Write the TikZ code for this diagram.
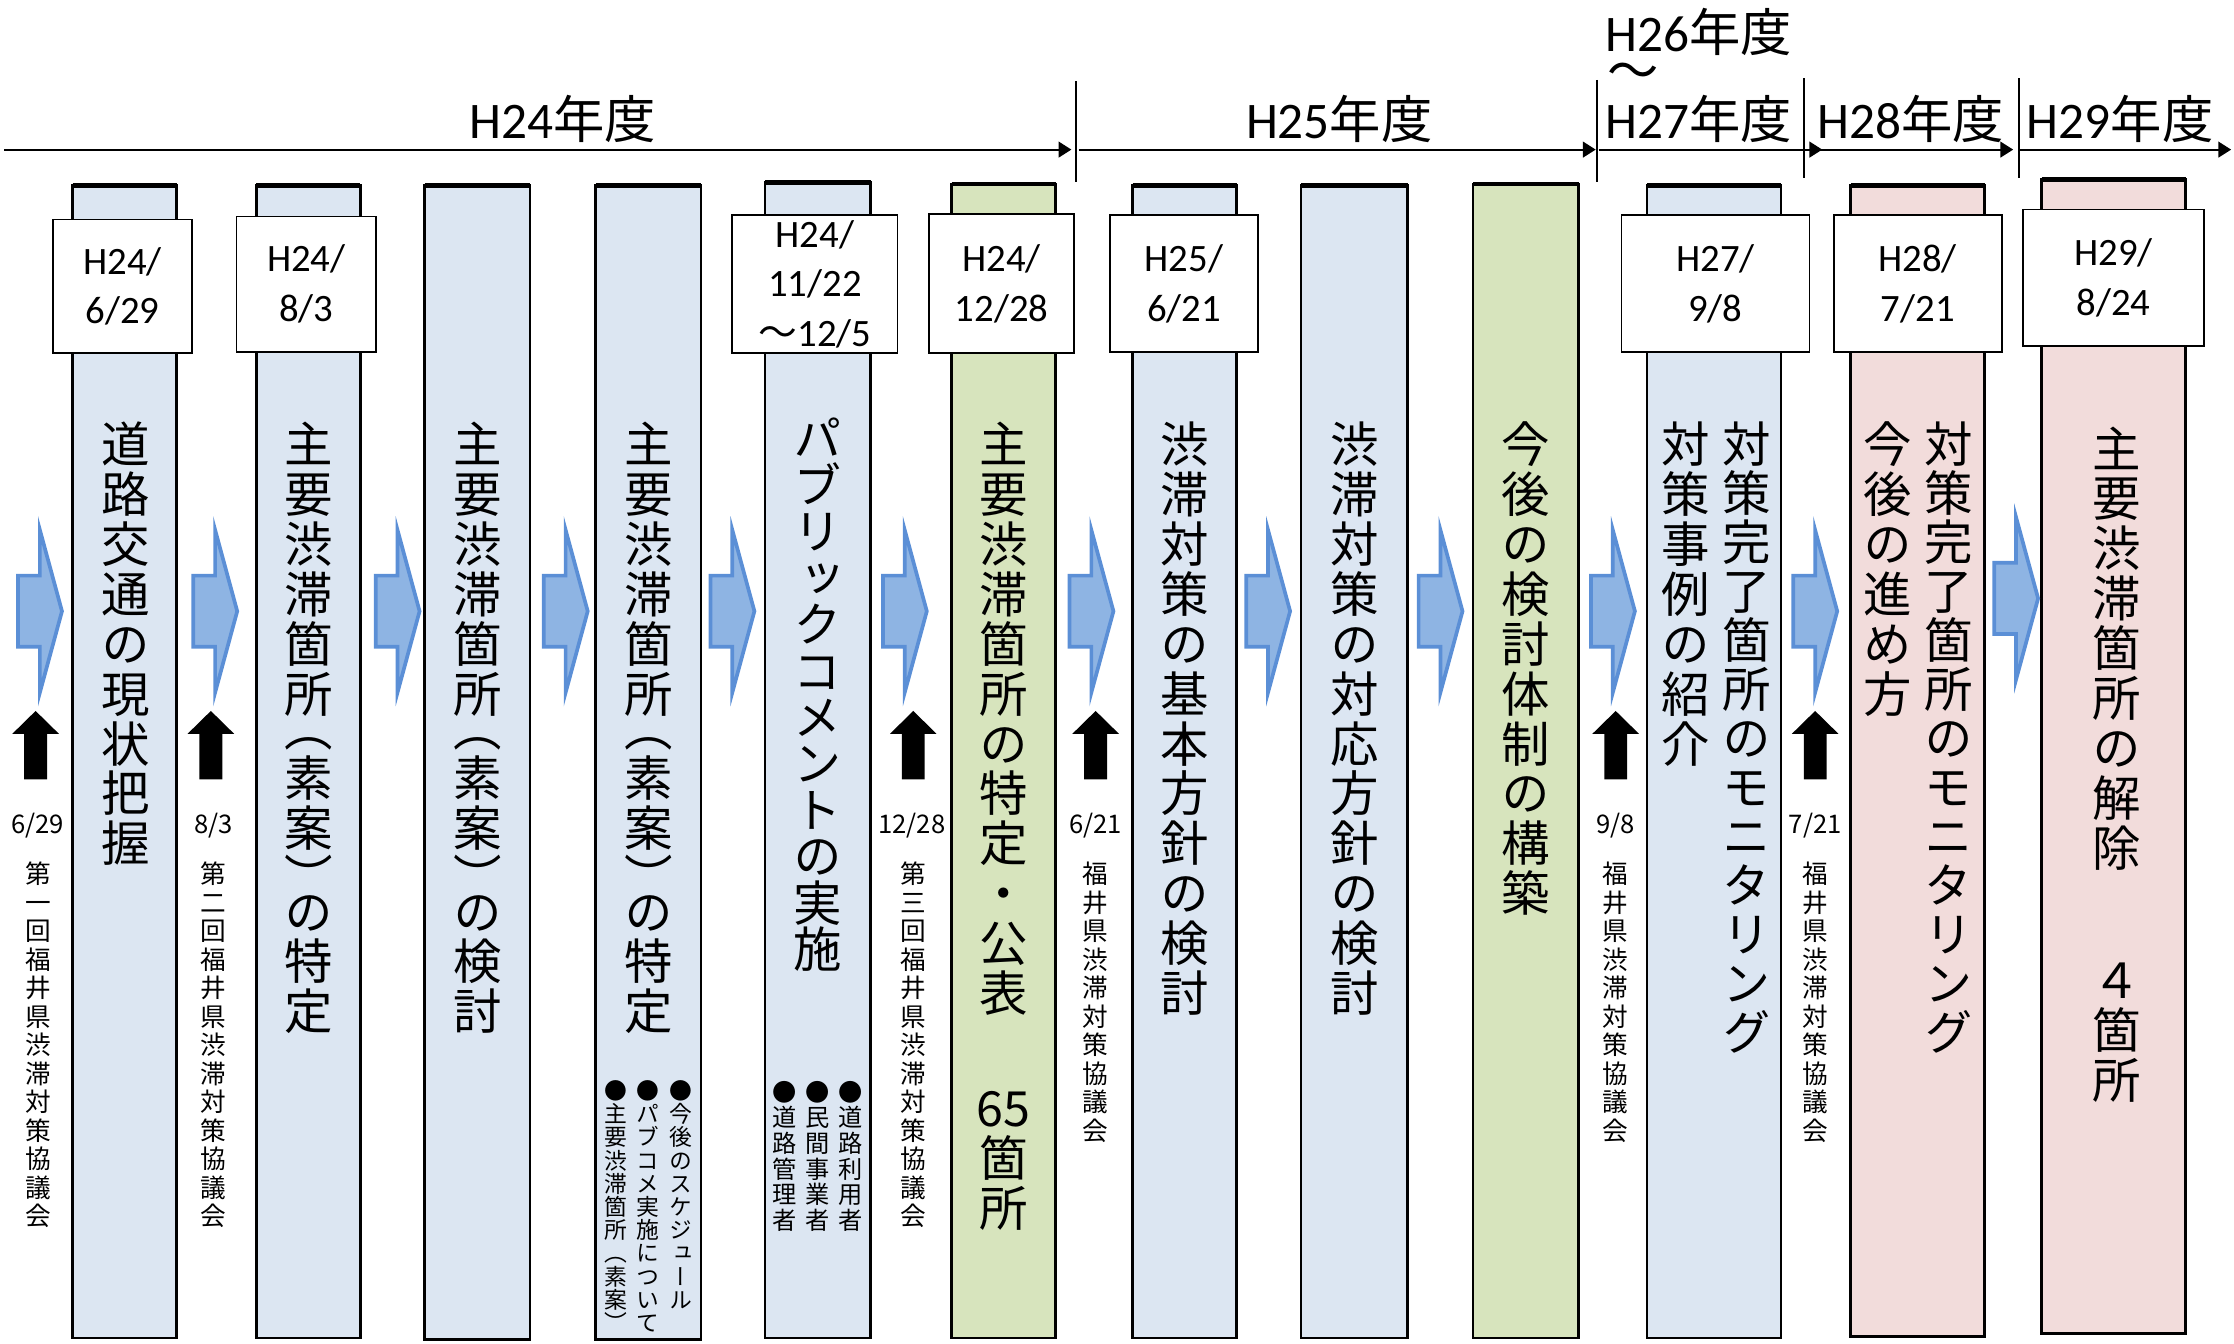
\documentclass[tikz,border=0pt]{standalone}
\usepackage{fontspec}
\setmainfont{Noto Sans CJK JP}
\newfontfamily\cjk{Noto Sans CJK JP}
\newfontfamily\vcjk[RawFeature=+vert]{Noto Sans CJK JP}
\newfontfamily\calib{Carlito}
\usetikzlibrary{arrows.meta}
\definecolor{cblue}{HTML}{DCE6F2}
\definecolor{cgreen}{HTML}{D7E4BD}
\definecolor{cpink}{HTML}{F2DCDB}
\definecolor{afill}{HTML}{8EB4E3}
\definecolor{aline}{HTML}{5B8FD6}

\ExplSyntaxOn
\dim_new:N \l__vt_pitch_dim
\cs_new_protected:Npn \vgap #1 { \skip_vertical:n {#1} }
\NewDocumentCommand \vtext { m m }
  {
    \vbox:n
      {
        \offinterlineskip
        \dim_set:Nn \l__vt_pitch_dim {#1}
        \tl_map_inline:nn {#2}
          {
            \tl_if_head_eq_meaning:nNTF {##1} \vgap
              { ##1 }
              {
                \hbox_to_wd:nn { 1em }
                  {
                    \hss
                    \vbox_to_ht:nn { \l__vt_pitch_dim }
                      {
                        \vss
                        \hbox:n { \vrule ~ height ~ .88em ~ depth ~ .12em ~ width ~ 0pt \scan_stop: \smash{##1} }
                        \vss
                      }
                    \hss
                  }
              }
          }
      }
  }
\ExplSyntaxOff

\tikzset{
  colbox/.style={draw=black, line width=0.9pt, inner sep=0pt, outer sep=0pt, anchor=north west},
  datebox/.style={draw=black, line width=0.6pt, fill=white, inner sep=0pt, outer sep=0pt, anchor=north west, align=center, font=\calib\fontsize{13.6}{17.5}\selectfont},
  yearlbl/.style={anchor=base, inner sep=0pt, font=\fontsize{18}{18}\selectfont},
  bigv/.style={anchor=north, inner sep=0pt, font=\vcjk\fontsize{17}{17}\selectfont},
  smv/.style={anchor=north, inner sep=0pt, font=\vcjk\fontsize{8}{8}\selectfont},
  smvb/.style={anchor=north, inner sep=0pt, font=\vcjk\fontsize{8.5}{8.5}\selectfont},
  medv/.style={anchor=north, inner sep=0pt, font=\vcjk\fontsize{9}{9}\selectfont},
  datelbl/.style={anchor=base, inner sep=0pt, font=\cjk\fontsize{9}{9}\selectfont},
  tline/.style={line width=0.75pt, -{Triangle[length=4.5pt,width=5.5pt]}},
  tickline/.style={line width=0.6pt},
  barrow/.style={fill=afill, draw=aline, line width=1.3pt, line join=miter},
}
\newcommand\colnode[6]{%
  \node[colbox, fill=#6, minimum width=#4pt, minimum height=#5pt] (#1) at (#2,#3) {};
  \draw[line width=1.6pt] (#1.north west) -- (#1.north east);}
\newcommand\datenode[6]{%
  \node[datebox, minimum width=#4pt, minimum height=#5pt] (#1) at (#2,#3) {#6};}
\newcommand\bluearr[2]{%
  \draw[barrow] (#1+0.7,#2-25) -- (#1+16,#2-25) -- (#1+16,#2-57) -- (#1+31.5,#2) -- (#1+16,#2+57) -- (#1+16,#2+25) -- (#1+0.7,#2+25) -- cycle;}
\newcommand\blackarr[1]{%
  \fill[black] (#1,499) -- (#1+16.3,515) -- (#1+8,515) -- (#1+8,547) -- (#1-8,547) -- (#1-8,515) -- (#1-16.3,515) -- cycle;}

\begin{document}
\begin{tikzpicture}[x=0.5pt,y=-0.5pt]
\useasboundingbox (0,0) rectangle (1568,943);

% ---- timeline ----
\coordinate (s24) at (3,105);    \coordinate (e24) at (752,105);
\coordinate (s25) at (757,105);  \coordinate (e25) at (1120,105);
\coordinate (s27) at (1122,105); \coordinate (e27) at (1279,105);
\coordinate (s28) at (1270,105); \coordinate (e28) at (1413,105);
\coordinate (s29) at (1418,105); \coordinate (e29) at (1566,105);
\draw[tline] (s24) -- (e24);
\draw[tline] (s25) -- (e25);
\draw[tline] (s27) -- (e27);
\draw[tline] (s28) -- (e28);
\draw[tline] (s29) -- (e29);
\coordinate (k1a) at (755,57);  \coordinate (k1b) at (755,128);
\coordinate (k2a) at (1121,56); \coordinate (k2b) at (1121,128);
\coordinate (k3a) at (1266,55); \coordinate (k3b) at (1266,125);
\coordinate (k4a) at (1417,55); \coordinate (k4b) at (1417,125);
\draw[tickline] (k1a) -- (k1b);
\draw[tickline] (k2a) -- (k2b);
\draw[tickline] (k3a) -- (k3b);
\draw[tickline] (k4a) -- (k4b);

\node[yearlbl] (h24) at (395,97) {\calib H24\cjk 年度};
\node[yearlbl] (h25) at (940,97) {\calib H25\cjk 年度};
\node[yearlbl] (h26) at (1192,36) {\calib H26\cjk 年度};
\node[yearlbl] (htl) at (1146,63) {\cjk ～};
\node[yearlbl] (h27) at (1192,97) {\calib H27\cjk 年度};
\node[yearlbl] (h28) at (1341,97) {\calib H28\cjk 年度};
\node[yearlbl] (h29) at (1488,97) {\calib H29\cjk 年度};

% ---- columns ----
\colnode{c1}{51}{130}{36.5}{404.5}{cblue}
\colnode{c2}{180}{130}{36.5}{404.5}{cblue}
\colnode{c3}{298}{130}{37}{405}{cblue}
\colnode{c4}{418}{130}{37}{405}{cblue}
\colnode{c5}{537}{128}{37}{405.5}{cblue}
\colnode{c6}{668}{129}{36.5}{405}{cgreen}
\colnode{c7}{795}{130}{36.5}{404.5}{cblue}
\colnode{c8}{913}{130}{37.5}{404.5}{cblue}
\colnode{c9}{1034}{129}{37}{405}{cgreen}
\colnode{c10}{1156}{130}{47}{404.5}{cblue}
\colnode{c11}{1299}{130}{47}{404}{cpink}
\colnode{c12}{1433}{126}{50.5}{405}{cpink}

% ---- date boxes ----
\datenode{d1}{37}{154}{49}{47}{H24/\\6/29}
\datenode{d2}{166}{152}{49}{47.5}{H24/\\8/3}
\datenode{d5}{514}{151}{58}{48.5}{H24/\\11/22\\{\cjk ～}12/5}
\datenode{d6}{652}{150}{51}{49}{H24/\\12/28}
\datenode{d7}{779}{151}{52}{48}{H25/\\6/21}
\datenode{d10}{1138}{151}{66}{48}{H27/\\9/8}
\datenode{d11}{1287}{151}{59}{48}{H28/\\7/21}
\datenode{d12}{1420}{147}{63.5}{48}{H29/\\8/24}

% ---- column texts ----
\node[bigv] (t1) at (88,294) {\vtext{17.5pt}{道路交通の現状把握}};
\node[bigv] (t2) at (216.5,294) {\vtext{17.5pt}{主要渋滞箇所{\vgap{-5.5pt}}（素案）{\vgap{-5.5pt}}の特定}};
\node[bigv] (t3) at (335,294) {\vtext{17.5pt}{主要渋滞箇所{\vgap{-5.5pt}}（素案）{\vgap{-5.5pt}}の検討}};
\node[bigv] (t4) at (455,294) {\vtext{17.5pt}{主要渋滞箇所{\vgap{-5.5pt}}（素案）{\vgap{-5.5pt}}の特定}};
\node[bigv] (t5) at (574,291) {\vtext{16.3pt}{パブリックコメントの実施}};
\node[bigv] (t6) at (704.5,294) {\vtext{17.5pt}{主要渋滞箇所の特定・公表{\vgap{23pt}}{65}箇所}};
\node[bigv] (t7) at (831.5,294) {\vtext{17.5pt}{渋滞対策の基本方針の検討}};
\node[bigv] (t8) at (950.5,294) {\vtext{17.5pt}{渋滞対策の対応方針の検討}};
\node[bigv] (t9) at (1071,294) {\vtext{17.5pt}{今後の検討体制の構築}};
\node[bigv] (t10a) at (1226,294) {\vtext{17.2pt}{対策完了箇所のモニタリング}};
\node[bigv] (t10b) at (1183,294) {\vtext{17.5pt}{対策事例の紹介}};
\node[bigv] (t11a) at (1368,294) {\vtext{17.2pt}{対策完了箇所のモニタリング}};
\node[bigv] (t11b) at (1325,294) {\vtext{17.5pt}{今後の進め方}};
\node[bigv] (t12) at (1486,297) {\vtext{17.5pt}{主要渋滞箇所の解除{\vgap{29pt}}４箇所}};

% ---- small notes in columns ----
\node[smv] (n4a) at (478,757) {\vtext{8.15pt}{●今後のスケジュール}};
\node[smv] (n4b) at (455,757) {\vtext{8.15pt}{●パブコメ実施について}};
\node[smv] (n4c) at (432,757) {\vtext{8.15pt}{●主要渋滞箇所（素案）}};
\node[smvb] (n5a) at (597,757) {\vtext{9pt}{●道路利用者}};
\node[smvb] (n5b) at (574,757) {\vtext{9pt}{●民間事業者}};
\node[smvb] (n5c) at (551,757) {\vtext{9pt}{●道路管理者}};

% ---- flow arrows ----
\bluearr{12}{429}
\bluearr{135}{429}
\bluearr{263}{429}
\bluearr{381}{429}
\bluearr{498}{429}
\bluearr{619}{429}
\bluearr{750}{429}
\bluearr{874}{429}
\bluearr{995}{429}
\bluearr{1116}{429}
\bluearr{1258}{429}
\bluearr{1399}{420}

% ---- meetings ----
\blackarr{25}
\blackarr{148}
\blackarr{641}
\blackarr{769}
\blackarr{1134}
\blackarr{1274}
\node[datelbl] (m1d) at (26.5,585) {6/29};
\node[datelbl] (m2d) at (150,585) {8/3};
\node[datelbl] (m3d) at (640,585) {12/28};
\node[datelbl] (m4d) at (769,585) {6/21};
\node[datelbl] (m5d) at (1134,585) {9/8};
\node[datelbl] (m6d) at (1274,585) {7/21};
\node[medv] (m1) at (27,603) {\vtext{10pt}{第一回福井県渋滞対策協議会}};
\node[medv] (m2) at (150,603) {\vtext{10pt}{第二回福井県渋滞対策協議会}};
\node[medv] (m3) at (641,603) {\vtext{10pt}{第三回福井県渋滞対策協議会}};
\node[medv] (m4) at (769,603) {\vtext{10pt}{福井県渋滞対策協議会}};
\node[medv] (m5) at (1134,603) {\vtext{10pt}{福井県渋滞対策協議会}};
\node[medv] (m6) at (1274,603) {\vtext{10pt}{福井県渋滞対策協議会}};
\end{tikzpicture}
\end{document}
